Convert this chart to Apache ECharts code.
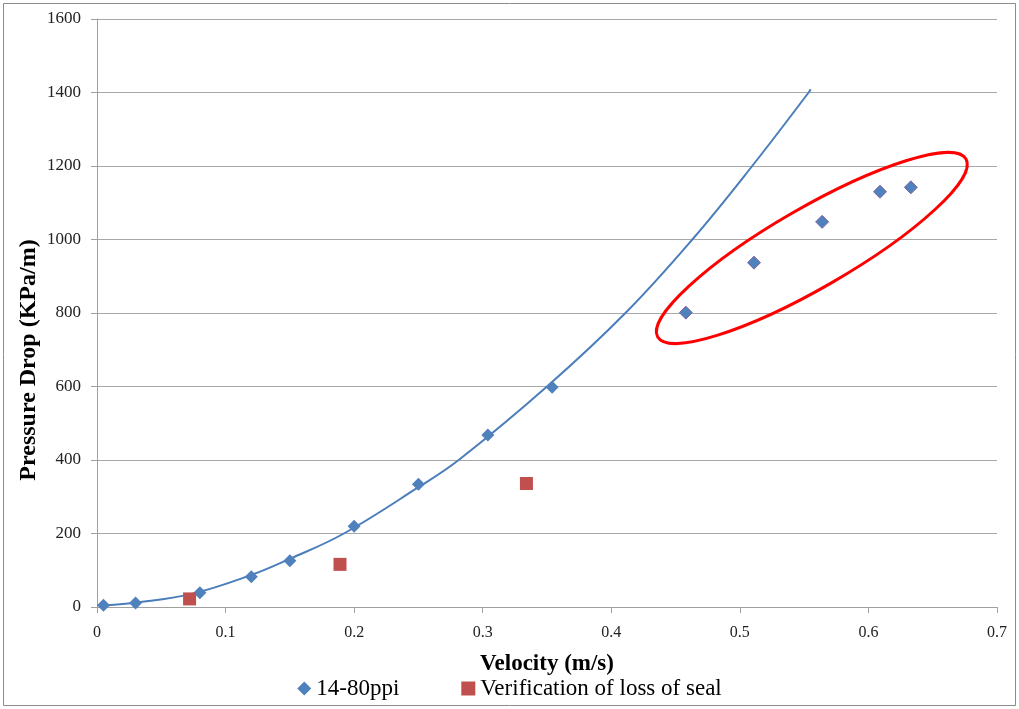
<!DOCTYPE html>
<html><head><meta charset="utf-8">
<script src="https://cdn.jsdelivr.net/npm/echarts@6/dist/echarts.min.js"></script>
<style>html,body{margin:0;padding:0;background:#fff}#c{width:1019px;height:709px}</style>
</head><body><div id="c"></div>
<script>
// Data
const seriesNames = ['14-80ppi', 'Verification of loss of seal'];
const xTitle = 'Velocity (m/s)';
const yTitle = 'Pressure Drop (KPa/m)';
const ppiX = [0.005, 0.03, 0.08, 0.12, 0.15, 0.2, 0.25, 0.304, 0.354, 0.458, 0.511, 0.564, 0.609, 0.633];
const ppiY = [5, 11, 39, 82, 126, 220, 334, 468, 598, 801, 937, 1048, 1130, 1142];
const sealX = [0.072, 0.189, 0.334];
const sealY = [22, 116, 336];
const trendX = [0.003, 0.03, 0.073, 0.12, 0.15, 0.192, 0.25, 0.2813, 0.35, 0.411, 0.463, 0.5096, 0.5535, 0.555];
const trendY = [3, 12, 35, 87, 131, 200, 326, 400, 600, 800, 1000, 1200, 1400, 1409];
const xTicks = [0, 0.1, 0.2, 0.3, 0.4, 0.5, 0.6, 0.7];
const yTicks = [0, 200, 400, 600, 800, 1000, 1200, 1400, 1600];
const circledFrom = 9; // index of first circled point
const ellipseCenter = [0.556, 977];

const zip = (a, b) => a.map((v, i) => [v, b[i]]);
const font = '"Liberation Serif","Times New Roman",serif';
const chart = echarts.init(document.getElementById('c'), null, {renderer: 'canvas'});
const ppiData = zip(ppiX, ppiY).map((p, i) => i >= circledFrom
  ? {value: p, itemStyle: {borderColor: '#8064A2', borderWidth: 1}} : {value: p});

chart.setOption({
  animation: false,
  backgroundColor: '#fff',
  grid: {left: 97, right: 22, top: 19, bottom: 102, containLabel: false},
  xAxis: {
    type: 'value', min: xTicks[0], max: xTicks[xTicks.length - 1], interval: 0.1,
    name: xTitle, nameLocation: 'middle', nameGap: 46,
    nameTextStyle: {fontFamily: font, fontWeight: 'bold', fontSize: 23, color: '#000'},
    axisLine: {lineStyle: {color: '#a0a0a0', width: 1}},
    axisTick: {show: true, length: 6, lineStyle: {color: '#a0a0a0'}},
    axisLabel: {fontFamily: font, fontSize: 16, color: '#222', margin: 18,
                formatter: v => String(Math.round(v * 10) / 10)},
    splitLine: {show: false}
  },
  yAxis: {
    type: 'value', min: yTicks[0], max: yTicks[yTicks.length - 1], interval: 200,
    axisLine: {show: true, lineStyle: {color: '#a0a0a0', width: 1}},
    axisTick: {show: true, length: 6, lineStyle: {color: '#a0a0a0'}},
    axisLabel: {fontFamily: font, fontSize: 17, color: '#222', margin: 16,
                formatter: v => String(v)},
    splitLine: {show: true, lineStyle: {color: '#a8a8a8', width: 1}}
  },
  legend: {
    bottom: 4, left: 'center', itemGap: 62, itemWidth: 14, itemHeight: 14,
    textStyle: {fontFamily: font, fontSize: 23, color: '#000'},
    data: [{name: seriesNames[0], icon: 'diamond'}, {name: seriesNames[1], icon: 'rect'}]
  },
  series: [
    {type: 'line', name: 'trend', data: zip(trendX, trendY), smooth: 0.4, showSymbol: false,
     lineStyle: {color: '#4A7EBB', width: 2}, z: 1},
    {type: 'scatter', name: seriesNames[0], data: ppiData, symbol: 'diamond', symbolSize: 13,
     itemStyle: {color: '#4F81BD', opacity: 1}, z: 3},
    {type: 'scatter', name: seriesNames[1], data: zip(sealX, sealY), symbol: 'rect', symbolSize: 13,
     itemStyle: {color: '#C0504D', opacity: 1}, z: 3}
  ]
});

const c = chart.convertToPixel({gridIndex: 0}, ellipseCenter);
chart.setOption({
  graphic: [
    {type: 'rect', x: 0, y: 0, shape: {x: 3.5, y: 3.5, width: 1012, height: 702},
     style: {fill: 'none', stroke: '#8c8c8c', lineWidth: 1}, silent: true},
    {type: 'text', x: 29, y: 360, rotation: Math.PI / 2,
     style: {text: yTitle, font: 'bold 24px ' + font, fill: '#000', align: 'center', verticalAlign: 'middle'},
     silent: true},
    {type: 'ellipse', x: c[0], y: c[1], rotation: 30 * Math.PI / 180,
     shape: {cx: 0, cy: 0, rx: 178, ry: 40},
     style: {fill: 'none', stroke: '#FF0000', lineWidth: 3}, z: 10, silent: true}
  ]
});
</script></body></html>
